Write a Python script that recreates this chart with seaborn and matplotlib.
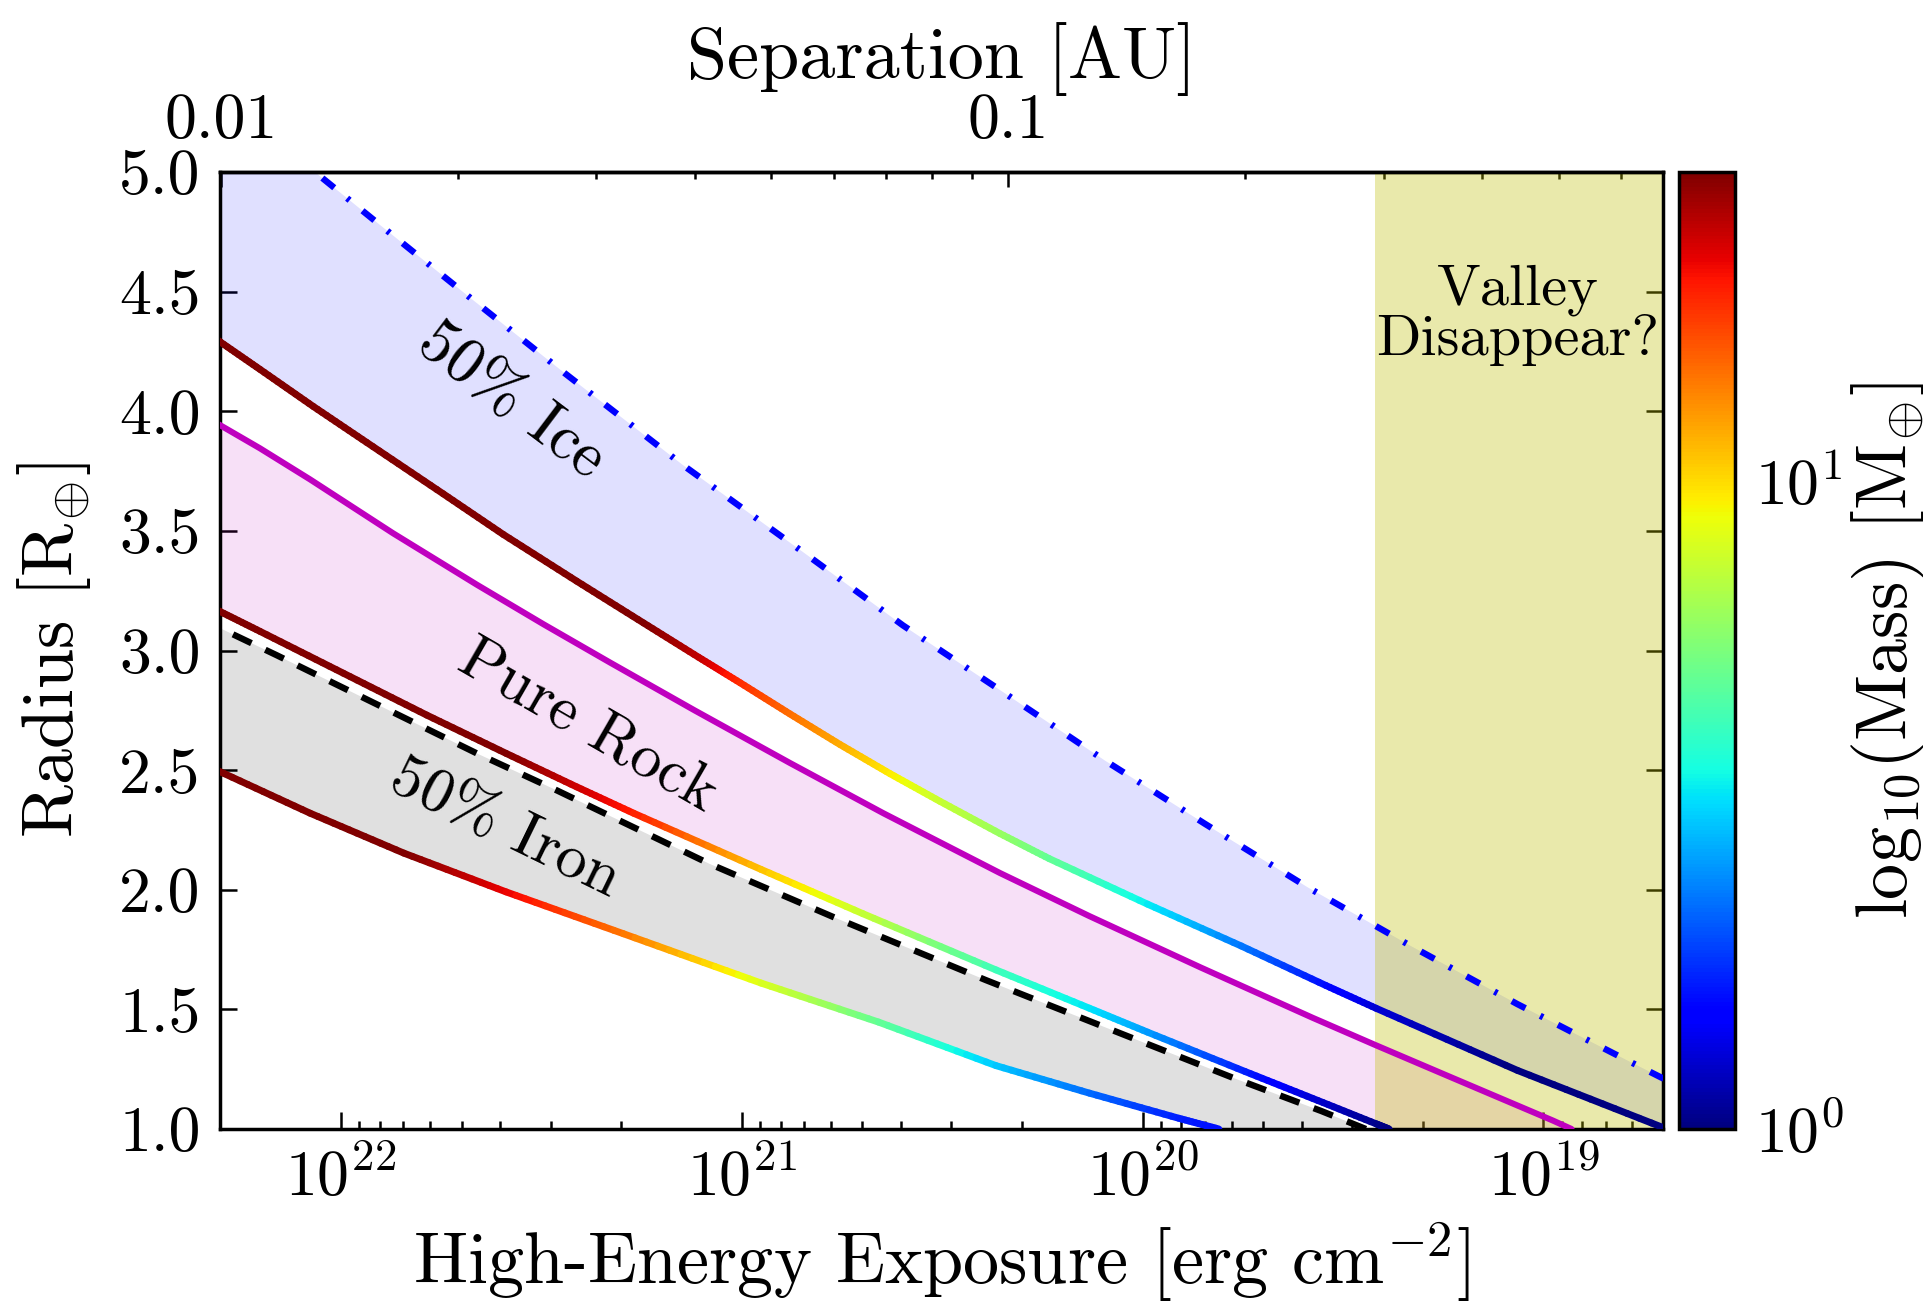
import numpy as np
import matplotlib
matplotlib.use("Agg")
import matplotlib.pyplot as plt
import seaborn as sns
from matplotlib.collections import LineCollection
from matplotlib.colors import LogNorm
from matplotlib.cm import ScalarMappable
from matplotlib.ticker import (FuncFormatter, NullFormatter, NullLocator,
                               MultipleLocator, FormatStrFormatter, LogLocator)

# ---- data: log10 of high-energy exposure [erg cm^-2], radius [R_earth], core mass [M_earth]
ice_top_logF = [22.31, 22.065, 21.911, 21.670, 21.441, 21.146, 20.842, 20.598,
                20.348, 20.094, 19.844, 19.588, 19.332, 19.065, 18.797, 18.70]
ice_top_R = [5.33, 5.00, 4.79, 4.464, 4.158, 3.774, 3.405, 3.105,
             2.826, 2.540, 2.275, 2.010, 1.766, 1.522, 1.292, 1.21]

ice_core_logF = [22.31, 22.202, 22.069, 21.936, 21.745, 21.595, 21.412, 21.245,
                 21.108, 21.004, 20.880, 20.755, 20.630, 20.506, 20.356, 20.233,
                 19.988, 19.754, 19.543, 19.418, 19.065, 18.70]
ice_core_R = [4.30, 4.175, 4.02, 3.87, 3.655, 3.485, 3.29, 3.115,
              2.972, 2.865, 2.735, 2.607, 2.485, 2.37, 2.235, 2.13,
              1.94, 1.765, 1.60, 1.505, 1.245, 1.005]
ice_core_mass = [60, 60, 55, 50, 45, 40, 34, 30,
                 25, 19, 15, 12, 9.5, 7.5, 6.2, 5.0,
                 3.4, 2.3, 1.6, 1.3, 1.0, 0.8]

rock_top_logF = [22.31, 22.202, 22.077, 21.870, 21.661, 21.495, 21.329, 21.118,
                 20.880, 20.647, 20.356, 20.133, 19.855, 19.576, 19.418, 19.243,
                 18.976, 18.93]
rock_top_R = [3.95, 3.845, 3.715, 3.49, 3.275, 3.11, 2.95, 2.75,
              2.53, 2.32, 2.07, 1.89, 1.675, 1.465, 1.35, 1.225,
              1.035, 1.0]

rock_core_logF = [22.31, 22.202, 21.994, 21.786, 21.588, 21.412, 21.270, 20.952,
                  20.698, 20.366, 20.133, 19.988, 19.744, 19.576, 19.418, 19.385]
rock_core_R = [3.17, 3.08, 2.905, 2.73, 2.57, 2.43, 2.32, 2.085,
               1.90, 1.665, 1.505, 1.405, 1.24, 1.128, 1.022, 1.0]
rock_core_mass = [60, 55, 45, 38, 30, 24, 20, 11,
                  7.5, 4.3, 3.3, 2.6, 1.7, 1.3, 1.05, 1.0]

iron_top_logF = [22.31, 22.16, 21.919, 21.661, 21.461, 21.080, 20.773, 20.392,
                 20.033, 19.776, 19.554, 19.443]
iron_top_R = [3.10, 2.98, 2.782, 2.57, 2.415, 2.108, 1.887, 1.623,
              1.385, 1.215, 1.075, 1.0]

iron_core_logF = [22.31, 22.077, 21.843, 21.588, 21.295, 20.952, 20.659, 20.366,
                  20.133, 19.910, 19.81]
iron_core_R = [2.50, 2.32, 2.153, 1.991, 1.816, 1.61, 1.447, 1.265,
               1.15, 1.045, 1.0]
iron_core_mass = [50, 40, 30, 22, 14.5, 8.2, 5.0, 3.0,
                  2.2, 1.7, 1.6]

valley_logF = 19.42                  # valley may vanish below this exposure
mass_range = (1.0, 30.0)             # colour scale limits [M_earth]
au_ref_logF, au_ref = 22.30, 0.01    # exposure where separation is 0.01 AU
au_power = 0.509                     # a ~ F^-power
xlim_logF = (22.302, 18.702)

BLUE, MAGENTA, BLACK, OLIVE = "#0000ff", "#bf00bf", "#000000", "#bfbf00"

# ---- style
sns.set_theme(style="ticks")
plt.rcParams.update({
    "font.family": "serif",
    "font.serif": ["cmr10"],
    "mathtext.fontset": "cm",
    "axes.unicode_minus": False,
    "axes.formatter.use_mathtext": True,
    "text.color": "black",
    "axes.labelcolor": "black",
    "xtick.color": "black",
    "ytick.color": "black",
    "axes.edgecolor": "black",
})

fig = plt.figure(figsize=(19.24, 13.01), dpi=100)
ax = fig.add_axes([0.1143, 0.1322, 0.75, 0.7356])
cax = fig.add_axes([0.8725, 0.1322, 0.0295, 0.7356])
ax.set_xscale("log")

norm = LogNorm(*mass_range)
cmap = plt.get_cmap("jet")


def band(up_logF, up_R, lo_logF, lo_R, color):
    xs = np.concatenate([10 ** np.asarray(up_logF), 10 ** np.asarray(lo_logF)[::-1]])
    ys = np.concatenate([np.asarray(up_R), np.asarray(lo_R)[::-1]])
    ax.fill(xs, ys, color=color, alpha=0.12, lw=0, zorder=1)


def mass_line(logF, R, mass, lw=5.0):
    logF, R = np.asarray(logF), np.asarray(R)
    lm = np.log10(np.asarray(mass, dtype=float))
    idx = np.arange(len(logF))
    t = np.linspace(0, len(logF) - 1, (len(logF) - 1) * 12 + 1)
    lx, ly, lmm = np.interp(t, idx, logF), np.interp(t, idx, R), np.interp(t, idx, lm)
    pts = np.column_stack([10 ** lx, ly])
    segs = np.stack([pts[:-1], pts[1:]], axis=1)
    lc = LineCollection(segs, cmap=cmap, norm=norm, linewidths=lw,
                        capstyle="round", zorder=3)
    lc.set_array(10 ** (0.5 * (lmm[:-1] + lmm[1:])))
    ax.add_collection(lc)


# composition bands
band(ice_top_logF, ice_top_R, ice_core_logF, ice_core_R, BLUE)
band(rock_top_logF, rock_top_R, rock_core_logF, rock_core_R, MAGENTA)
band(iron_top_logF, iron_top_R, iron_core_logF, iron_core_R, BLACK)

# region where the radius valley may disappear
ax.axvspan(10 ** valley_logF, 10 ** 18.0, color=OLIVE, alpha=0.33, lw=0, zorder=1.5)

# upper envelopes
sns.lineplot(x=10 ** np.asarray(ice_top_logF), y=ice_top_R, ax=ax, color=BLUE,
             lw=4.6, errorbar=None, zorder=3)
ax.get_lines()[-1].set_dashes([2.4, 2.6, 0.5, 2.6])
sns.lineplot(x=10 ** np.asarray(rock_top_logF), y=rock_top_R, ax=ax, color=MAGENTA,
             lw=4.4, errorbar=None, zorder=3)
sns.lineplot(x=10 ** np.asarray(iron_top_logF), y=iron_top_R, ax=ax, color=BLACK,
             lw=4.6, errorbar=None, zorder=4)
ax.get_lines()[-1].set_dashes([3.2, 2.4])

# mass-coloured core curves
mass_line(ice_core_logF, ice_core_R, ice_core_mass)
mass_line(rock_core_logF, rock_core_R, rock_core_mass)
mass_line(iron_core_logF, iron_core_R, iron_core_mass)

# annotations
ax.text(10 ** 21.575, 4.04, "50% Ice", rotation=-37, rotation_mode="anchor",
        ha="center", va="center", fontsize=46, zorder=6)
ax.text(10 ** 21.385, 2.68, "Pure Rock", rotation=-30, rotation_mode="anchor",
        ha="center", va="center", fontsize=45, zorder=6)
ax.text(10 ** 21.59, 2.255, "50% Iron", rotation=-26, rotation_mode="anchor",
        ha="center", va="center", fontsize=45, zorder=6)
ax.text(10 ** 19.065, 4.40, "Valley\nDisappear?", ha="center", va="center",
        multialignment="center", linespacing=0.95, fontsize=42, zorder=6)

# axes
ax.set_xlim(10 ** xlim_logF[0], 10 ** xlim_logF[1])
ax.set_ylim(1.0, 5.0)
ax.yaxis.set_major_locator(MultipleLocator(0.5))
ax.yaxis.set_major_formatter(FormatStrFormatter("%.1f"))
ax.yaxis.set_minor_locator(NullLocator())
ax.tick_params(which="both", direction="in", top=False, right=True,
               labelsize=46, width=1.8, pad=14, colors="black")
ax.tick_params(which="major", length=12)
ax.tick_params(which="minor", length=6)
for s in ax.spines.values():
    s.set_linewidth(2.5)
    s.set_color("black")

ax.set_xlabel("High-Energy Exposure [erg cm$^{-2}$]", fontsize=52)
ax.set_ylabel("Radius [R$_{\\oplus}$]", fontsize=52)
ax.xaxis.set_label_coords(0.5, -0.095)
ax.yaxis.set_label_coords(-0.088, 0.5)


def to_au(F):
    F = np.asarray(F, dtype=float)
    return au_ref * (F / 10 ** au_ref_logF) ** (-au_power)


def to_exposure(a):
    a = np.asarray(a, dtype=float)
    return 10 ** au_ref_logF * (a / au_ref) ** (-1.0 / au_power)


sec = ax.secondary_xaxis("top", functions=(to_au, to_exposure))
sec.xaxis.set_major_locator(LogLocator(subs=(1.0,)))
sec.xaxis.set_minor_locator(LogLocator(subs=np.arange(2, 10)))
sec.xaxis.set_major_formatter(FuncFormatter(lambda v, p: f"{v:g}"))
sec.xaxis.set_minor_formatter(NullFormatter())
sec.tick_params(which="both", direction="in", labelsize=46, width=1.8, pad=15,
                colors="black")
sec.tick_params(which="major", length=11)
sec.tick_params(which="minor", length=5)
sec.spines["top"].set_linewidth(2.5)
sec.set_xlabel("Separation [AU]", fontsize=52)
sec.xaxis.set_label_coords(0.5, 1.098, transform=ax.transAxes)

# colour bar
cbar = fig.colorbar(ScalarMappable(norm=norm, cmap=cmap), cax=cax)
cbar.set_ticks([1, 10])
cbar.ax.minorticks_off()
cbar.ax.tick_params(direction="in", length=12, width=1.8, labelsize=46, pad=14,
                    colors="black")
cbar.outline.set_linewidth(2.5)
cbar.set_label("log$_{10}$(Mass) [M$_{\\oplus}$]", fontsize=52, labelpad=4)

fig.savefig("out.png", dpi=100)
